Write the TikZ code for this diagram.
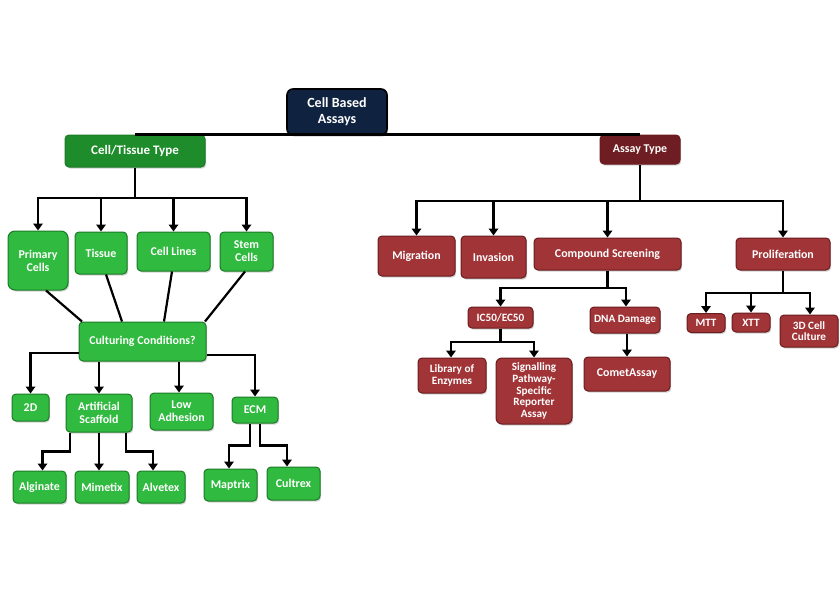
\documentclass[tikz,border=0pt]{standalone}
\usepackage{fontspec}
\setmainfont{Carlito}
\usetikzlibrary{arrows.meta,shadows,calc}
\definecolor{gfill}{HTML}{30BA3F}
\definecolor{gedge}{HTML}{1B7A26}
\definecolor{gdark}{HTML}{1E8C2A}
\definecolor{rfill}{HTML}{A03437}
\definecolor{redge}{HTML}{6A1C1F}
\definecolor{rdark}{HTML}{6E1E22}
\definecolor{navy}{HTML}{0F2340}
\tikzset{
  box/.style={rounded corners=4pt, line width=1pt, text=white, align=center,
    font=\bfseries\fontsize{11.9}{12.8}\selectfont, inner sep=1pt,
    drop shadow={shadow xshift=1.2pt, shadow yshift=-1.5pt, opacity=0.35}},
  gbox/.style={box, fill=gfill, draw=gedge},
  rbox/.style={box, fill=rfill, draw=redge},
  small/.style={font=\bfseries\fontsize{11.2}{11.6}\selectfont},
  arr/.style={line width=2.2pt, -{Triangle[width=9.5pt,length=7pt]}},
  ln/.style={line width=2.2pt},
}
\newcommand{\bx}[6]{\node[#1, minimum width=#4pt, minimum height=#5pt] (#2) at (#3) {#6};}
\begin{document}
\begin{tikzpicture}[x=1pt,y=-1pt]
\useasboundingbox (0,0) rectangle (840,594);
% nodes
\bx{box, fill=navy, draw=black, line width=1.6pt, rounded corners=6pt, font=\bfseries\fontsize{14}{16}\selectfont}{root}{337,112}{100}{46}{Cell Based\\Assays}
\bx{gbox, fill=gdark, font=\bfseries\fontsize{13}{14}\selectfont}{ctt}{135,151}{140}{32}{Cell/Tissue Type}
\bx{gbox, rounded corners=7pt}{prim}{38,260.5}{60}{59}{Primary\\Cells}
\bx{gbox}{tissue}{101,253}{52}{42}{Tissue}
\bx{gbox}{clines}{173.5,251.5}{73}{39}{Cell Lines}
\bx{gbox}{stem}{246.5,251.5}{53}{39}{Stem\\Cells}
\bx{gbox}{cc}{142.5,341.5}{127}{39}{Culturing Conditions?}
\bx{gbox}{dd}{30.5,407.5}{37}{27}{2D}
\bx{gbox}{art}{99,413}{66}{38}{Artificial\\Scaffold}
\bx{gbox}{low}{181.5,411.5}{63}{37}{Low\\Adhesion}
\bx{gbox}{ecm}{255,410}{46}{26}{ECM}
\bx{gbox}{alg}{39.5,487}{53}{32}{Alginate}
\bx{gbox}{mim}{102,487}{54}{32}{Mimetix}
\bx{gbox}{alv}{161,487}{48}{32}{Alvetex}
\bx{gbox}{map}{230.5,485}{53}{32}{Maptrix}
\bx{gbox}{cul}{293.5,483.5}{53}{33}{Cultrex}
\bx{rbox, fill=rdark}{at}{640,149.5}{80}{29}{Assay Type}
\bx{rbox}{mig}{416.5,256}{77}{40}{Migration}
\bx{rbox}{inv}{493.5,257}{65}{42}{Invasion}
\bx{rbox}{comp}{607.5,254}{147}{32}{Compound Screening}
\bx{rbox}{prol}{783,254}{94}{32}{Proliferation}
\bx{rbox, small}{ic}{500.5,317.5}{65}{21}{IC50/EC50}
\bx{rbox, small}{dna}{625,320}{70}{26}{DNA Damage}
\bx{rbox, small}{lib}{452,375.5}{68}{35}{Library of\\Enzymes}
\bx{rbox, small, rounded corners=6pt}{sig}{534,391}{76}{66}{Signalling\\Pathway-\\Specific\\Reporter\\Assay}
\bx{rbox}{comet}{627,374}{86}{34}{CometAssay}
\bx{rbox, small}{mtt}{706,323}{38}{19}{MTT}
\bx{rbox, small}{xtt}{751,322.5}{38}{19}{XTT}
\bx{rbox, small}{dthree}{809,331}{58}{32}{3D Cell\\Culture}
% connectors
\draw[ln] (ctt.north) -- (at.north);
\coordinate (b1) at (135,198);
\draw[ln] (ctt.south) -- (b1);
\draw[arr] (b1) -| (prim.north);
\draw[arr] (b1) -| (tissue.north);
\draw[arr] (b1) -| (clines.north);
\draw[arr] (b1) -| (stem.north);
\draw[ln] ([xshift=8pt]prim.south) -- ([xshift=-60.5pt]cc.north);
\draw[ln] ([xshift=5pt]tissue.south) -- ([xshift=-20.5pt]cc.north);
\draw[ln] ([xshift=-1.5pt]clines.south) -- ([xshift=21.5pt]cc.north);
\draw[ln] ([xshift=-1.5pt]stem.south) -- ([xshift=62.5pt]cc.north);
\draw[arr] ([yshift=-11.5pt]cc.west) -| (dd.north);
\draw[arr] (cc.south -| art.north) -- (art.north);
\draw[arr] ([xshift=-2.5pt]cc.south -| low.north) -- ([xshift=-2.5pt]low.north);
\draw[arr] ([yshift=-13.5pt]cc.east) -| (ecm.north);
\draw[arr] ([xshift=-29pt]art.south) -- ++(0,19) -| ([xshift=3pt]alg.north);
\draw[arr] (art.south) -- (art.south |- mim.north);
\draw[arr] ([xshift=27pt]art.south) -- ++(0,19) -| ([xshift=-8pt]alv.north);
\draw[arr] ([xshift=-5pt]ecm.south) -- ++(0,22) -| ([xshift=-1.5pt]map.north);
\draw[arr] ([xshift=5pt]ecm.south) -- ++(0,22) -| ([xshift=-6.5pt]cul.north);
\coordinate (b2) at (640,201);
\draw[ln] (at.south) -- (b2);
\draw[arr] (b2) -| (mig.north);
\draw[arr] (b2) -| (inv.north);
\draw[arr] (b2) -| (comp.north);
\draw[arr] (b2) -| (prol.north);
\coordinate (b3) at (607.5,288);
\draw[ln] (comp.south) -- (b3);
\draw[arr] (b3) -| (ic.north);
\draw[arr] (b3) -| ([xshift=1pt]dna.north);
\coordinate (b4) at (500.5,342);
\draw[ln] (ic.south) -- (b4);
\draw[arr] (b4) -| ([xshift=-1pt]lib.north);
\draw[arr] (b4) -| (sig.north);
\draw[arr] (dna.south -| comet.north) -- (comet.north);
\coordinate (b5) at (783,293);
\draw[ln] (prol.south) -- (b5);
\draw[arr] (b5) -| (mtt.north);
\draw[arr] (b5) -| (xtt.north);
\draw[arr] (b5) -| ([xshift=1pt]dthree.north);
\end{tikzpicture}
\end{document}
